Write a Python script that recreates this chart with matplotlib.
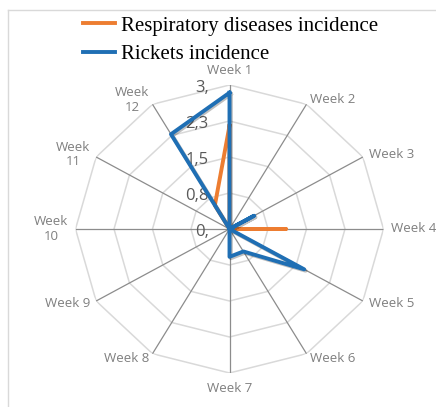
import numpy as np
import matplotlib
matplotlib.use('Agg')
from matplotlib import pyplot as plt
from matplotlib.lines import Line2D
import matplotlib.patheffects as pe

weeks = ['Week 1', 'Week 2', 'Week 3', 'Week 4', 'Week 5', 'Week 6',
         'Week 7', 'Week 8', 'Week 9', 'Week\n10', 'Week\n11', 'Week\n12']
respiratory = [2.15, 0, 0, 1.1, 0, 0, 0, 0, 0, 0, 0, 0.57]
rickets = [2.84, 0, 0.55, 0, 1.68, 0.54, 0.58, 0, 0, 0, 0, 2.28]
ring_values = [0, 0.75, 1.5, 2.25, 3.0]
ring_labels = ['0,', '0,8', '1,5', '2,3', '3,']

W, H = 436, 407
fig = plt.figure(figsize=(W / 100, H / 100), dpi=100)

# center (229.5, 229), radii 154 x 144 px (picture is a bit squashed)
ax = fig.add_axes([(229.5 - 154) / W, (H - 229 - 144) / H, 308 / W, 288 / H],
                  projection='polar')
ax.set_aspect('auto')
ax.set_theta_zero_location('N')
ax.set_theta_direction(-1)
ax.set_ylim(0, 3.0)
ax.grid(False)
ax.set_xticks([])
ax.set_yticks([])
ax.spines['polar'].set_visible(False)
ax.patch.set_alpha(0)

angles = np.linspace(0, 2 * np.pi, len(weeks), endpoint=False)
closed = np.append(angles, angles[0])

for r in ring_values[1:]:
    ax.plot(closed, [r] * len(closed), color='#d9d9d9', lw=1.1, zorder=1)
for a in angles:
    ax.plot([a, a], [0, 3.0], color='#8c8c8c', lw=0.9, zorder=2)

for a, name in zip(angles, weeks):
    s, c = np.sin(a), np.cos(a)
    if abs(s) < 0.1:
        ha, off = 'center', (0, 15 * c)
    else:
        ha, off = ('left' if s > 0 else 'right'), (7 * s, 5 * c)
    ax.annotate(name, xy=(a, 3.0), xytext=off, textcoords='offset pixels',
                ha=ha, va='center', ma='center', fontsize=9.5,
                family='Open Sans', color='#7f7f7f', linespacing=1.15)

for r, lab in zip(ring_values, ring_labels):
    ax.annotate(lab, xy=(0, r), xytext=(-21, -3), textcoords='offset pixels',
                ha='right', va='center', fontsize=12, family='Open Sans',
                color='#595959')

ax.plot(closed, respiratory + respiratory[:1], color='#ED7D31', lw=2.8,
        zorder=4, label='Respiratory diseases incidence')
ax.plot(closed, rickets + rickets[:1], color='#1F6FB4', lw=2.8, zorder=5,
        label='Rickets incidence',
        path_effects=[pe.SimpleLineShadow(offset=(1, -1), alpha=0.25),
                      pe.Normal()])

handles = [Line2D([], [], color='#ED7D31', lw=2.8),
           Line2D([], [], color='#1F6FB4', lw=2.8)]
fig.legend(handles, ['Respiratory diseases incidence', 'Rickets incidence'],
           loc='upper left', bbox_to_anchor=(83 / W, 1 - 16 / H),
           frameon=False, borderpad=0, borderaxespad=0,
           prop={'family': 'Liberation Serif', 'size': 15},
           handlelength=1.55, handletextpad=0.25, labelspacing=0.42)

# chart area border (left and top edges visible)
fig.add_artist(Line2D([8 / W, 8 / W], [0, 1 - 10 / H], color='#d9d9d9', lw=1,
                      transform=fig.transFigure))
fig.add_artist(Line2D([8 / W, 1], [1 - 10 / H, 1 - 10 / H], color='#d9d9d9',
                      lw=1, transform=fig.transFigure))

fig.savefig('out.png', dpi=100)
